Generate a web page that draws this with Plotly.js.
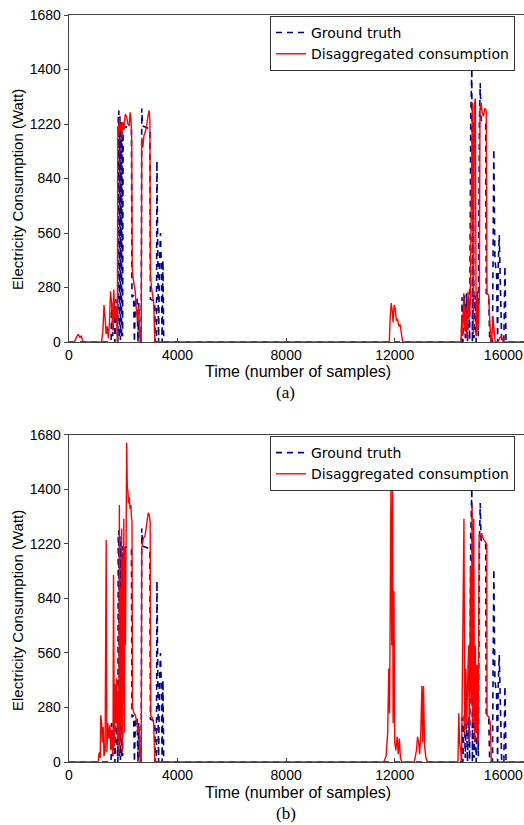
<!DOCTYPE html>
<html>
<head>
<meta charset="utf-8">
<script src="https://cdn.plot.ly/plotly-3.0.1.min.js"></script>
<style>
html,body{margin:0;padding:0;overflow:hidden;background:#fff;width:524px;height:825px;}
#chart{width:530px;height:825px;}
</style>
</head>
<body>
<div id="chart"></div>
<script>
// ---- Data (time in samples, power in Watt) ----
const gtTime = [0,1550,1570,1610,1650,1690,1730,1770,1800,1815,1835,1855,1875,1895,1915,1935,1955,1975,1995,2040,2100,2200,2300,2320,2380,2410,2450,2510,2540,2570,2610,2660,2680,2710,2800,2900,2980,3000,3100,3160,3175,3220,3240,3270,3300,3330,3370,3400,3430,3460,3490,
  14460,14480,14510,14560,14600,14640,14680,14720,14760,14800,14840,14860,14890,14920,14960,15000,15040,15080,15120,15150,15180,15260,15350,15370,15460,15500,15600,15650,15690,15750,15790,15810,15850,15880,15940,16020,16060,16100,16900];
const gtWatt = [0,0,200,30,210,0,220,40,0,1150,1190,20,1160,10,1130,20,1110,30,1100,1100,1105,1100,1095,230,240,0,230,220,0,200,0,0,1200,1110,1105,1100,1095,220,215,210,0,0,930,540,0,380,560,400,0,420,0,
  0,230,0,240,20,250,0,230,10,1150,1410,0,1130,20,240,0,260,30,1130,1330,1140,1130,1125,250,240,0,0,990,420,350,0,380,550,400,0,0,390,0,0];

const predATime = [0,200,260,330,400,450,520,1200,1250,1290,1330,1370,1410,1450,1490,1530,1570,1610,1650,1690,1740,1780,1800,1830,1860,1890,1920,1950,1980,2020,2070,2120,2170,2220,2250,2280,2310,2330,2360,2400,2440,2480,2520,2560,2590,2620,2660,2680,2720,2760,2810,2860,2910,2950,2980,3000,3040,3080,3120,3160,
  11800,11830,11870,11910,11940,11980,12020,12060,12100,12150,12200,12250,12290,
  14440,14470,14500,14540,14580,14620,14660,14700,14740,14780,14860,14900,14930,14970,15000,15040,15080,15120,15140,15180,15220,15270,15320,15370,15400,15460,15500,15540,15580,15620,15660,15700,15820,15860,15920,15960,16000,16900];
const predAWatt = [0,0,20,40,25,30,0,0,60,190,120,40,80,20,100,260,200,60,270,120,180,0,1110,1060,1150,1080,1120,1050,1130,1090,1170,1160,1120,1110,1180,1150,1050,380,330,300,260,170,110,180,60,0,0,1050,1000,1060,1080,1110,1160,1190,1140,340,280,240,200,0,
  0,120,200,160,100,190,170,110,120,80,90,40,0,
  0,140,30,250,60,180,20,260,120,200,1230,40,1220,1250,30,240,80,260,1200,1230,1180,1160,1200,1190,250,240,120,0,20,130,60,0,0,20,30,10,0,0];

const predBTime = [0,1080,1100,1130,1150,1170,1200,1230,1260,1290,1330,1370,1395,1430,1470,1510,1540,1580,1620,1640,1670,1700,1730,1760,1790,1820,1840,1855,1880,1900,1920,1940,1960,1980,2000,2020,2040,2060,2080,2100,2125,2150,2170,2190,2220,2250,2280,2300,2320,2340,2400,2450,2500,2550,2590,2620,2660,2680,2740,2800,2860,2920,2960,2990,3010,3060,3120,3160,
  11600,11680,11740,11780,11810,11860,11890,11920,11940,11970,12000,12040,12090,12130,12170,12210,12260,
  12720,12760,12800,12840,12880,12920,12960,13000,13030,13060,13100,13150,13200,
  14330,14360,14390,14430,14460,14550,14580,14620,14650,14690,14720,14750,14790,14820,14850,14880,14910,14940,14970,15000,15030,15070,15110,15150,15200,15250,15300,15390,15400,15470,15520,15560,16900];
const predBWatt = [0,0,40,50,20,240,200,100,180,30,60,1140,50,200,120,190,60,140,30,960,80,400,200,430,120,360,40,1320,100,900,200,1200,50,1050,300,1250,150,1100,600,1300,1640,1390,1400,1330,1360,1300,1320,1260,1240,280,250,240,200,150,180,0,0,1100,1150,1160,1220,1280,1270,1230,240,230,200,0,
  0,30,150,480,250,1410,600,1400,200,880,100,60,130,40,120,20,0,
  0,30,60,130,100,40,150,390,100,390,80,20,0,
  0,250,100,60,0,1250,150,480,200,420,600,100,1000,300,1320,200,1250,100,600,150,500,100,1170,1160,1175,1150,1140,1120,240,230,200,0,0];

const xTickVals = [0,4000,8000,12000,16000];
const yTickVals = [0,280,560,840,1120,1400,1680];
const yTickText = ['0','280','560','840','1220','1400','1680'];
const seriesNames = ['Ground truth','Disaggregated consumption'];
const panelLabels = ['(a)','(b)'];

// ---- Styles ----
const blue = '#00008c';
const red = '#ff0000';
const gtLine = {color: blue, width: 1.6, dash: '6px,5px'};
const predLine = {color: red, width: 1.4};

const traces = [
  {x: gtTime, y: gtWatt, type: 'scatter', mode: 'lines', name: seriesNames[0], line: gtLine, xaxis: 'x', yaxis: 'y', legend: 'legend'},
  {x: predATime, y: predAWatt, type: 'scatter', mode: 'lines', name: seriesNames[1], line: predLine, xaxis: 'x', yaxis: 'y', legend: 'legend'},
  {x: gtTime, y: gtWatt, type: 'scatter', mode: 'lines', name: seriesNames[0], line: gtLine, xaxis: 'x2', yaxis: 'y2', legend: 'legend2'},
  {x: predBTime, y: predBWatt, type: 'scatter', mode: 'lines', name: seriesNames[1], line: predLine, xaxis: 'x2', yaxis: 'y2', legend: 'legend2'}
];

const tickFont = {family: 'Liberation Sans, Arial, sans-serif', size: 14, color: '#000'};
function xAxis(anchor){
  return {anchor: anchor, range: [0, 16983], tickvals: xTickVals, ticktext: xTickVals.map(String),
    ticks: 'inside', ticklen: 4, tickcolor: '#444', showline: true, linecolor: '#444', linewidth: 1.3, mirror: true,
    showgrid: false, zeroline: false, tickfont: tickFont, fixedrange: true};
}
function yAxis(anchor, domain){
  return {anchor: anchor, domain: domain, range: [0, 1680], tickvals: yTickVals, ticktext: yTickText,
    ticks: 'outside', ticklen: 4, tickcolor: '#444', showline: true, linecolor: '#444', linewidth: 1.3, mirror: true,
    showgrid: false, zeroline: false, tickfont: tickFont, fixedrange: true};
}
const legendStyle = {xanchor: 'left', yanchor: 'top', x: 0.436, bgcolor: '#fff', bordercolor: '#333', borderwidth: 1,
  font: {family: 'DejaVu Sans, sans-serif', size: 14, color: '#000'}, tracegroupgap: 0};

const titleFont = {family: 'Liberation Sans, Arial, sans-serif', size: 15, color: '#000'};
const labelFont = {family: 'Liberation Serif, Times New Roman, serif', size: 17, color: '#000'};

const layout = {
  width: 530, height: 825,
  margin: {l: 69, r: 0, t: 15, b: 63},
  paper_bgcolor: '#fff', plot_bgcolor: '#fff',
  showlegend: true,
  xaxis: xAxis('y'),
  yaxis: yAxis('x', [0.5622, 1]),
  xaxis2: xAxis('y2'),
  yaxis2: yAxis('x2', [0, 0.4378]),
  legend: Object.assign({y: 0.9987}, legendStyle),
  legend2: Object.assign({y: 0.4364}, legendStyle),
  annotations: [
    {xref: 'paper', yref: 'paper', x: -0.1106, y: 0.7658, text: 'Electricity Consumption (Watt)', textangle: -90, showarrow: false, xanchor: 'center', yanchor: 'middle', font: titleFont},
    {xref: 'paper', yref: 'paper', x: -0.1106, y: 0.2022, text: 'Electricity Consumption (Watt)', textangle: -90, showarrow: false, xanchor: 'center', yanchor: 'middle', font: titleFont},
    {xref: 'paper', yref: 'paper', x: 0.4967, y: 0.5221, text: 'Time (number of samples)', showarrow: false, xanchor: 'center', yanchor: 'middle', font: {family: titleFont.family, size: 16, color: '#000'}},
    {xref: 'paper', yref: 'paper', x: 0.4967, y: -0.0402, text: 'Time (number of samples)', showarrow: false, xanchor: 'center', yanchor: 'middle', font: {family: titleFont.family, size: 16, color: '#000'}},
    {xref: 'paper', yref: 'paper', x: 0.4707, y: 0.494, text: panelLabels[0], showarrow: false, xanchor: 'center', yanchor: 'middle', font: labelFont},
    {xref: 'paper', yref: 'paper', x: 0.4707, y: -0.0696, text: panelLabels[1], showarrow: false, xanchor: 'center', yanchor: 'middle', font: labelFont}
  ]
};

Plotly.newPlot('chart', traces, layout, {displayModeBar: false, staticPlot: true});
</script>
</body>
</html>
